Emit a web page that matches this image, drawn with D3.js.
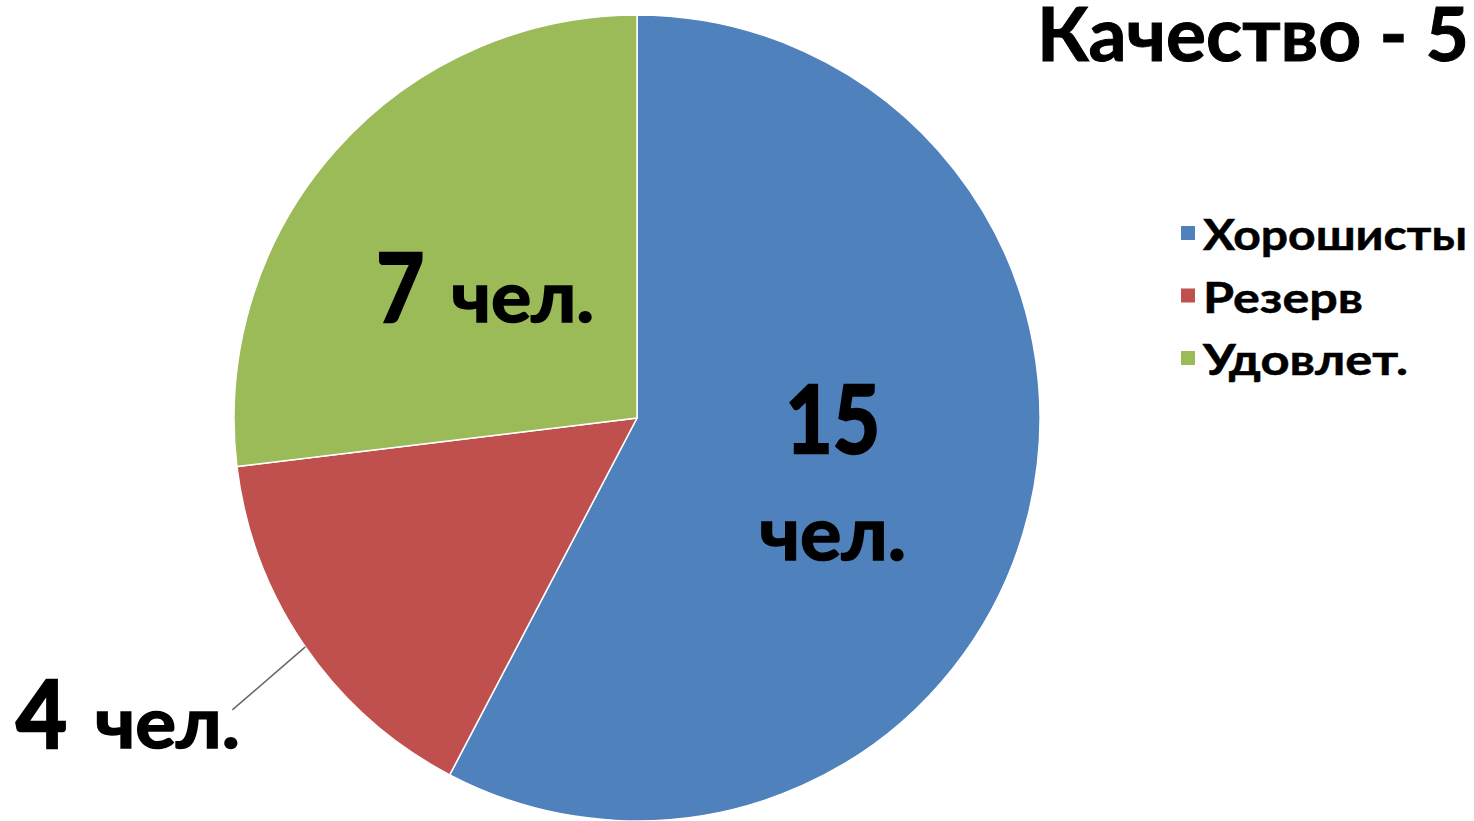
<!DOCTYPE html>
<html>
<head>
<meta charset="utf-8">
<script src="https://cdn.jsdelivr.net/npm/d3@7"></script>
<style>
  body { margin: 0; background: #fff; }
  svg { display: block; font-family: Lato, "Open Sans", sans-serif; font-weight: bold; }
</style>
</head>
<body>
<svg id="chart" width="1474" height="821"></svg>
<script>
// data
var categories = ["Хорошисты", "Резерв", "Удовлет."];
var values = [15, 4, 7];
var unit = "чел.";
var colors = ["#4F81BD", "#C0504D", "#9BBB59"];
var title = "Качество - 5";

var width = 1474, height = 821;
var cx = 637, cy = 418, radius = 403;

var svg = d3.select("#chart");

var pie = d3.pie().sort(null).value(function(d) { return d; });
var arc = d3.arc().innerRadius(0).outerRadius(radius);
var arcs = pie(values);

var g = svg.append("g").attr("transform", "translate(" + cx + "," + cy + ")");

g.selectAll("path.slice")
  .data(arcs)
  .enter()
  .append("path")
  .attr("class", "slice")
  .attr("d", arc)
  .attr("fill", function(d, i) { return colors[i]; })
  .attr("stroke", "#fff")
  .attr("stroke-width", 1.5);

// fit a text element to a target width, and thicken a bit (Calibri bold is heavier)
function fit(sel, w, sw) {
  sel.attr("textLength", w).attr("lengthAdjust", "spacingAndGlyphs")
    .attr("stroke", "#000").attr("stroke-width", sw || 0);
}

// label inside blue slice: number above, unit below
var c0 = arc.centroid(arcs[0]);
var t15 = g.append("text")
  .attr("x", c0[0]).attr("y", c0[1] - 13)
  .attr("text-anchor", "middle")
  .attr("font-size", 93)
  .text(values[0]);
fit(t15, 95, 2.5);
var u15 = g.append("text")
  .attr("x", c0[0]).attr("y", c0[1] + 94)
  .attr("text-anchor", "middle")
  .attr("font-size", 74)
  .text(unit);
fit(u15, 147, 1.5);

// label inside green slice: number and unit on one line
var c2 = arc.centroid(arcs[2]);
var t7 = g.append("text")
  .attr("x", c2[0] - 110).attr("y", c2[1] + 38)
  .attr("font-size", 95)
  .text(values[2]);
fit(t7, 48, 2.5);
var u7 = g.append("text")
  .attr("x", c2[0] - 35).attr("y", c2[1] + 38)
  .attr("font-size", 70)
  .text(unit);
fit(u7, 143, 1.5);

// red slice: outside label with leader line
var mid = (arcs[1].startAngle + arcs[1].endAngle) / 2;
var edge = [Math.sin(mid) * radius, -Math.cos(mid) * radius];
g.append("line")
  .attr("x1", edge[0]).attr("y1", edge[1])
  .attr("x2", edge[0] - 73).attr("y2", edge[1] + 63)
  .attr("stroke", "#666")
  .attr("stroke-width", 1.5);

var t4 = svg.append("text")
  .attr("x", 16).attr("y", 748)
  .attr("font-size", 94)
  .text(values[1]);
fit(t4, 51, 2.5);
var u4 = svg.append("text")
  .attr("x", 95).attr("y", 748)
  .attr("font-size", 70)
  .text(unit);
fit(u4, 145, 1.5);

// title
var tt = svg.append("text")
  .attr("x", 1037).attr("y", 61)
  .attr("font-size", 74)
  .text(title);
fit(tt, 432, 1);

// legend
var legend = svg.append("g").attr("transform", "translate(1181,250)");
var item = legend.selectAll("g")
  .data(categories)
  .enter()
  .append("g")
  .attr("transform", function(d, i) { return "translate(0," + (i * 62.5) + ")"; });

item.append("rect")
  .attr("x", 0).attr("y", -24)
  .attr("width", 14).attr("height", 14)
  .attr("fill", function(d, i) { return colors[i]; });

item.append("text")
  .attr("x", 22).attr("y", 0)
  .attr("font-size", 42)
  .text(function(d) { return d; })
  .each(function(d, i) {
    var w = [264, 160, 205][i];
    fit(d3.select(this), w, 0.5);
  });
</script>
</body>
</html>
